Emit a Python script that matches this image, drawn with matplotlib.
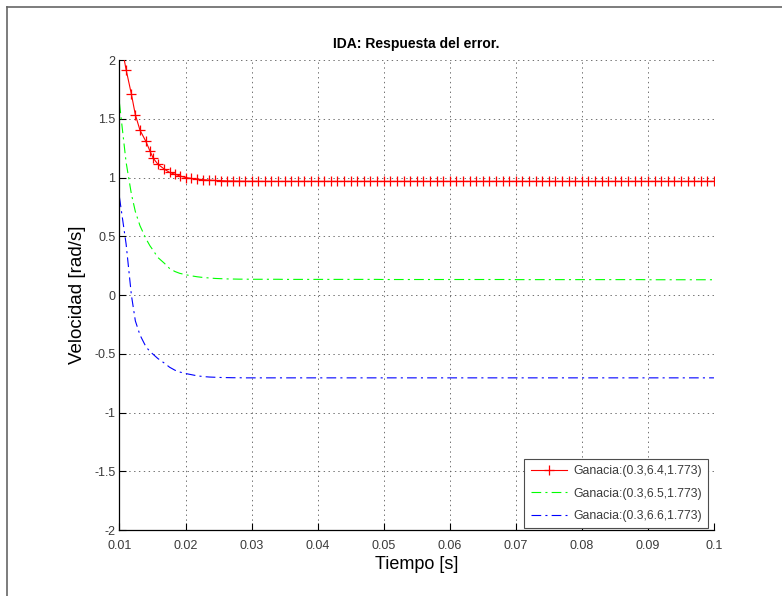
import numpy as np
import matplotlib
matplotlib.use("Agg")
import matplotlib.pyplot as plt
from matplotlib.lines import Line2D

plt.rcParams['font.family'] = ['Liberation Sans', 'DejaVu Sans']
plt.rcParams['lines.scale_dashes'] = False

# tiempos de muestreo (paso variable del integrador)
t_ini = [0.0100, 0.0110, 0.0118, 0.0124, 0.0131, 0.0140, 0.0146, 0.0151,
         0.0158, 0.0168, 0.0176, 0.0184, 0.0191, 0.0200, 0.0209, 0.0218,
         0.0227, 0.0236, 0.0245, 0.0254, 0.0263, 0.0272, 0.0281, 0.0290]
t_fin = [0.030, 0.031, 0.032, 0.033, 0.034, 0.035, 0.036, 0.037, 0.038, 0.039,
         0.040, 0.041, 0.042, 0.043, 0.044, 0.045, 0.046, 0.047, 0.048, 0.049,
         0.050, 0.051, 0.052, 0.053, 0.054, 0.055, 0.056, 0.057, 0.058, 0.059,
         0.060, 0.061, 0.062, 0.063, 0.064, 0.065, 0.066, 0.067, 0.068, 0.069,
         0.070, 0.071, 0.072, 0.073, 0.074, 0.075, 0.076, 0.077, 0.078, 0.079,
         0.080, 0.081, 0.082, 0.083, 0.084, 0.085, 0.086, 0.087, 0.088, 0.089,
         0.090, 0.091, 0.092, 0.093, 0.094, 0.095, 0.096, 0.097, 0.098, 0.099,
         0.100]
tiempo = np.array(t_ini + t_fin)

# Ganacia (0.3, 6.4, 1.773)
err_64 = [2.22, 1.918, 1.71, 1.534, 1.403, 1.307, 1.227, 1.165,
          1.114, 1.071, 1.043, 1.028, 1.014, 1.000, 0.992, 0.986,
          0.981, 0.978, 0.975, 0.973, 0.971, 0.970, 0.969, 0.968] + [
    0.968, 0.968, 0.967, 0.967, 0.967, 0.967, 0.967, 0.967, 0.967, 0.967,
    0.967, 0.967, 0.967, 0.967, 0.967, 0.967, 0.967, 0.967, 0.967, 0.967,
    0.967, 0.967, 0.967, 0.967, 0.967, 0.967, 0.967, 0.967, 0.967, 0.967,
    0.967, 0.967, 0.967, 0.967, 0.967, 0.967, 0.967, 0.967, 0.967, 0.967,
    0.967, 0.967, 0.967, 0.967, 0.967, 0.967, 0.967, 0.967, 0.967, 0.967,
    0.967, 0.967, 0.967, 0.967, 0.967, 0.967, 0.967, 0.967, 0.967, 0.967,
    0.967, 0.967, 0.967, 0.967, 0.967, 0.967, 0.967, 0.967, 0.967, 0.967,
    0.967]

# Ganacia (0.3, 6.5, 1.773)
err_65 = [1.63, 1.13, 0.86, 0.71, 0.59, 0.48, 0.42, 0.38,
          0.32, 0.27, 0.225, 0.20, 0.185, 0.173, 0.163, 0.155,
          0.149, 0.145, 0.141, 0.139, 0.137, 0.136, 0.135, 0.135] + [
    0.134, 0.134, 0.134, 0.134, 0.134, 0.133, 0.133, 0.133, 0.133, 0.133,
    0.133, 0.133, 0.133, 0.133, 0.133, 0.133, 0.133, 0.133, 0.133, 0.133,
    0.132, 0.132, 0.132, 0.132, 0.132, 0.132, 0.132, 0.132, 0.132, 0.132,
    0.132, 0.132, 0.132, 0.132, 0.132, 0.132, 0.132, 0.132, 0.132, 0.132,
    0.131, 0.131, 0.131, 0.131, 0.131, 0.131, 0.131, 0.131, 0.131, 0.131,
    0.131, 0.131, 0.131, 0.131, 0.131, 0.131, 0.131, 0.131, 0.131, 0.131,
    0.130, 0.130, 0.130, 0.130, 0.130, 0.130, 0.130, 0.130, 0.130, 0.130,
    0.130]

# Ganacia (0.3, 6.6, 1.773)
err_66 = [0.83, 0.435, 0.0, -0.22, -0.34, -0.44, -0.48, -0.505,
          -0.54, -0.58, -0.615, -0.64, -0.655, -0.668, -0.678, -0.688,
          -0.694, -0.698, -0.700, -0.702, -0.703, -0.704, -0.704, -0.705] + [
    -0.705, -0.705, -0.705, -0.705, -0.705, -0.705, -0.705, -0.705, -0.705, -0.705,
    -0.705, -0.705, -0.705, -0.705, -0.705, -0.705, -0.705, -0.705, -0.705, -0.705,
    -0.705, -0.705, -0.705, -0.705, -0.705, -0.705, -0.705, -0.705, -0.705, -0.705,
    -0.705, -0.705, -0.705, -0.705, -0.705, -0.705, -0.705, -0.705, -0.705, -0.705,
    -0.705, -0.705, -0.705, -0.705, -0.705, -0.705, -0.705, -0.705, -0.705, -0.705,
    -0.705, -0.705, -0.705, -0.705, -0.705, -0.705, -0.705, -0.705, -0.705, -0.705,
    -0.705, -0.705, -0.705, -0.705, -0.705, -0.705, -0.705, -0.705, -0.705, -0.705,
    -0.705]

etiquetas = ['Ganacia:(0.3,6.4,1.773)', 'Ganacia:(0.3,6.5,1.773)',
             'Ganacia:(0.3,6.6,1.773)']
x_ticks = [0.01, 0.02, 0.03, 0.04, 0.05, 0.06, 0.07, 0.08, 0.09, 0.1]
x_ticklabels = ['0.01', '0.02', '0.03', '0.04', '0.05', '0.06', '0.07', '0.08', '0.09', '0.1']
y_ticks = [-2, -1.5, -1, -0.5, 0, 0.5, 1, 1.5, 2]
y_ticklabels = ['-2', '-1.5', '-1', '-0.5', '0', '0.5', '1', '1.5', '2']

fig = plt.figure(figsize=(7.82, 5.96), dpi=100)
ax = fig.add_axes([0.1528, 0.1107, 0.7602, 0.7886])

ax.plot(tiempo, err_64, color='#ff0000', lw=0.8, marker='+', ms=6.5, mew=0.9,
        label=etiquetas[0])
ax.plot(tiempo, err_65, color='#00ff00', lw=0.8, dashes=(7, 3, 1.5, 3),
        label=etiquetas[1])
ax.plot(tiempo, err_66, color='#0000ff', lw=0.8, dashes=(7, 3, 1.5, 3),
        label=etiquetas[2])

ax.set_xlim(0.01, 0.1)
ax.set_ylim(-2, 2)
ax.set_xticks(x_ticks)
ax.set_xticklabels(x_ticklabels)
ax.set_yticks(y_ticks)
ax.set_yticklabels(y_ticklabels)
ax.tick_params(direction='in', length=5, width=0.8, labelsize=9,
               labelcolor='#3a3a3a')
ax.tick_params(axis='x', pad=7)
ax.tick_params(axis='y', pad=3)
ax.grid(True, color='0.35', linestyle=(0, (1, 2.5)), linewidth=0.6)

ax.spines['top'].set_visible(False)
ax.spines['right'].set_visible(False)
ax.spines['left'].set_linewidth(0.9)
ax.spines['bottom'].set_linewidth(0.9)

ax.set_title('IDA: Respuesta del error.', fontsize=10, fontweight='bold', pad=9)
ax.set_xlabel('Tiempo [s]', fontsize=13, labelpad=3)
ax.set_ylabel('Velocidad [rad/s]', fontsize=13.5, labelpad=6)

leg = ax.legend(loc='lower right', bbox_to_anchor=(0.99, 0.004),
                borderaxespad=0, fancybox=False, framealpha=1,
                edgecolor='0.3', fontsize=8.8, numpoints=1,
                handlelength=3.0, labelspacing=0.85, borderpad=0.5,
                handletextpad=0.5)
leg.get_frame().set_linewidth(0.8)
for txt in leg.get_texts():
    txt.set_color('#3a3a3a')

# marco de la ventana
fig.add_artist(Line2D([7 / 782, 1], [1 - 7 / 596, 1 - 7 / 596],
                      transform=fig.transFigure, color='0.4', lw=1.2))
fig.add_artist(Line2D([7 / 782, 7 / 782], [0, 1 - 7 / 596],
                      transform=fig.transFigure, color='0.4', lw=1.2))

fig.savefig('out.png', dpi=100)
